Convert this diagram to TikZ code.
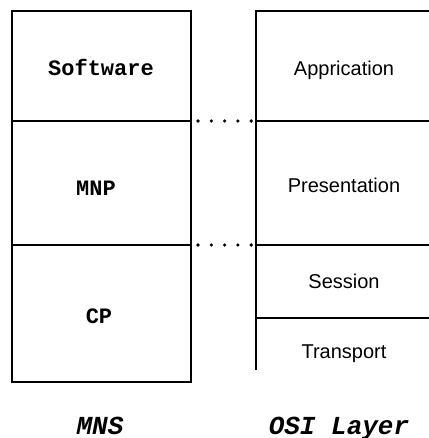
\documentclass[tikz,border=0pt]{standalone}
\usepackage{fontspec}
\setmainfont{Liberation Sans}
\newfontfamily\codefont{Liberation Mono}
\usetikzlibrary{decorations.markings}
\begin{document}
\begin{tikzpicture}[x=1pt,y=-1pt,
  frame/.style={line width=2.5pt,line join=miter},
  cell/.style={draw,line width=2.5pt,rectangle,minimum width=179pt,anchor=north west,
    inner sep=0pt,outer sep=0pt},
  cellname/.style={anchor=base,inner sep=0pt,font=\codefont\bfseries\fontsize{22}{24}\selectfont},
  layer/.style={anchor=base,inner sep=0pt,font=\fontsize{20}{22}\selectfont},
  caption/.style={anchor=base,inner sep=0pt,font=\codefont\bfseries\itshape\fontsize{26}{28}\selectfont},
  link/.style={decoration={markings,
      mark=between positions 0 and 0.99 step 13.3pt with {\fill (0,0) circle (1.8pt);}},
    decorate}]
\useasboundingbox (0,0) rectangle (428,438);
% MNS stack
\node[cell,minimum height=110pt] (sw) at (12,11) {};
\node[cell,minimum height=124pt] (mnp) at (12,121) {};
\node[cell,minimum height=137pt] (cp) at (12,245) {};
\node[cellname] (swt) at (101,76) {Software};
\node[cellname] (mnpt) at (96,196) {MNP};
\node[cellname] (cpt) at (99,323) {CP};
% OSI stack: open on the right, no bottom edge
\coordinate (o1) at (256,11);
\coordinate (o2) at (256,121);
\coordinate (o3) at (256,245);
\coordinate (o4) at (256,318);
\coordinate (o5) at (256,370);
\draw[frame] (440,11) -- (o1) -- (o5);
\draw[frame] (o2) -- (440,121);
\draw[frame] (o3) -- (440,245);
\draw[frame] (o4) -- (440,318);
\node[layer] (app) at (344,76) {Apprication};
\node[layer] (pre) at (344,193) {Presentation};
\node[layer] (ses) at (344,288) {Session};
\node[layer] (tra) at (344,358) {Transport};
% dotted correspondences
\coordinate (d1) at (198,121);
\coordinate (d2) at (198,245);
\path[link] (d1) -- (o2);
\path[link] (d2) -- (o3);
% captions
\node[caption] (mns) at (100,434) {MNS};
\node[caption] (osi) at (339,434) {OSI Layer};
\end{tikzpicture}
\end{document}
